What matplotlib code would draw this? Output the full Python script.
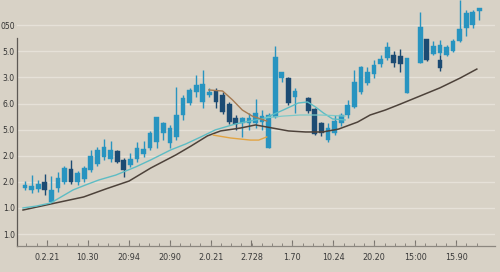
import matplotlib
matplotlib.use("Agg")
import matplotlib.pyplot as plt
import numpy as np

# ---------------- data ----------------
idx = [0, 1, 2, 3, 4, 5, 6, 7, 8, 9, 10, 11, 12, 13, 14, 15, 16, 17, 18, 19, 20,
       21, 22, 23, 24, 25, 26, 27, 28, 29, 30, 31, 32, 33, 34, 35, 36, 37, 38, 39,
       40, 41, 43, 44, 45, 46, 47, 48, 49, 50, 51, 52, 53, 54, 55, 56, 57, 58,
       60, 61, 62, 63, 63, 64, 65, 66, 67, 68, 69]

opens = [27.6, 26.9, 27.3, 29.9, 22.3, 27.6, 29.9, 34.9, 29.9, 31.1, 34.5, 36.8,
         39.5, 38.8, 41.8, 38.4, 36.5, 38.8, 40.7, 43.0, 45.3, 48.7, 44.9, 47.2,
         55.6, 60.2, 64.4, 60.6, 63.3, 64.8, 63.3, 59.8, 54.5, 52.5, 52.5, 52.5,
         52.9, 43.0, 54.8, 69.8, 69.8, 62.5,
         62.1, 57.9, 52.5, 46.0, 48.7, 52.5, 55.6, 58.7, 64.4, 67.9, 71.3, 75.1,
         77.4, 78.6, 78.2, 64.0,
         75.5, 84.7, 79.0, 79.4, 76.7, 78.6, 80.1, 84.0, 88.9, 90.1, 95.5]
highs = [30.3, 32.6, 30.7, 33.0, 32.2, 33.8, 36.1, 38.4, 34.2, 36.1, 42.2, 43.3,
         46.4, 45.6, 42.2, 39.1, 41.1, 45.3, 45.6, 49.5, 54.8, 52.9, 51.8, 66.3,
         63.3, 66.0, 70.9, 72.8, 66.0, 66.0, 64.4, 60.6, 55.6, 54.8, 56.4, 61.7,
         57.5, 56.4, 82.0, 72.1, 70.2, 66.0,
         62.5, 58.3, 52.9, 52.5, 55.6, 56.4, 61.4, 72.8, 74.4, 74.0, 76.7, 78.6,
         83.6, 80.1, 80.9, 77.4,
         95.1, 84.7, 84.0, 84.3, 78.6, 82.4, 84.7, 99.7, 95.8, 95.8, 96.6]
lows = [26.9, 25.7, 26.1, 25.0, 21.9, 26.1, 29.2, 29.2, 28.8, 29.9, 33.8, 36.1,
        38.4, 37.6, 37.2, 31.9, 35.7, 37.6, 39.5, 42.2, 43.0, 46.0, 43.0, 46.0,
        53.7, 59.4, 62.5, 58.3, 62.5, 58.3, 56.0, 52.2, 49.9, 47.2, 49.9, 50.6,
        49.9, 43.0, 54.5, 68.3, 59.4, 56.4,
        56.4, 47.9, 47.6, 45.3, 47.9, 51.4, 54.5, 58.3, 63.7, 67.1, 69.8, 74.0,
        76.7, 74.0, 72.1, 64.0,
        75.5, 76.3, 78.6, 78.6, 72.5, 78.2, 79.7, 83.6, 85.9, 88.9, 92.0]
closes = [28.8, 28.4, 29.2, 26.9, 26.9, 31.5, 35.3, 29.9, 33.4, 35.3, 39.9, 42.2,
          43.3, 42.2, 37.6, 34.5, 38.8, 43.0, 42.6, 48.7, 54.8, 52.5, 50.6, 55.6,
          62.1, 65.2, 67.1, 67.5, 64.4, 60.6, 56.8, 52.9, 52.2, 54.5, 54.5, 56.4,
          55.2, 55.6, 77.8, 72.1, 60.2, 64.8,
          57.1, 48.3, 48.7, 50.6, 53.3, 55.6, 59.4, 68.3, 74.0, 72.1, 74.8, 77.1,
          81.7, 75.5, 75.1, 77.4,
          89.3, 76.7, 82.0, 82.4, 73.6, 81.7, 84.0, 88.6, 94.7, 95.1, 96.6]

ma_long_x = [-0.3, 3.9, 8.9, 12.3, 15.8, 19.1, 22.9, 25.2, 27.7, 29.7, 32.7, 35.0,
             37.6, 40.0, 42.6, 45.2, 47.6, 50.5, 52.4, 54.7, 57.0, 60.0, 63.0, 66.1, 68.6]
ma_long_y = [19.2, 21.5, 24.2, 27.3, 30.3, 35.3, 40.3, 43.7, 47.6, 49.5, 50.6, 51.8,
             50.6, 49.5, 49.1, 49.1, 50.2, 52.9, 55.6, 57.5, 59.8, 62.9, 66.0, 69.8, 73.2]

ma_short_x = [-0.3, 1.7, 3.9, 5.2, 7.3, 9.2, 11.2, 13.8, 16.8, 19.1, 22.1, 24.4,
              26.7, 28.9, 32.0, 35.0, 36.5, 39.2, 41.5, 42.9, 44.1, 45.3, 46.7, 48.6]
ma_short_y = [20.0, 20.7, 21.9, 23.8, 26.9, 28.8, 30.7, 32.6, 35.7, 38.4, 42.2, 44.5,
              47.2, 49.9, 52.2, 53.7, 54.5, 57.5, 60.2, 60.6, 58.7, 56.4, 54.1, 53.7]

ma_flat_x = [36.5, 39.2, 41.8, 44.8, 48.6]
ma_flat_y = [54.5, 55.2, 55.6, 55.6, 55.2]

brown_x = [27.9, 30.0, 31.5, 33.0, 34.5, 35.8, 36.7]
brown_y = [65.2, 64.8, 61.4, 57.5, 55.2, 54.1, 53.3]

amber_x = [28.6, 31.2, 34.2, 35.5, 36.7]
amber_y = [47.9, 46.8, 46.0, 46.0, 47.2]

y_ticks = [10, 20, 30, 40, 50, 60, 70, 80, 90]
y_labels = ["1.0", "1.0", "2.0", "2.0", "5.0", "6.0", "3.0", "5.0", "050"]
x_labels = ["0.2.21", "10.30", "20:94", "20:90", "2.0.21", "2.728",
            "1.70", "10.24", "20.20", "15:00", "15.90"]

# ---------------- style ----------------
BG = "#d8d2c6"
GRID = "#e6e1d8"
LIGHT = "#2894c0"
DARK = "#1c4b73"

fig = plt.figure(figsize=(5.0, 2.72), dpi=100)
fig.patch.set_facecolor(BG)
ax = fig.add_axes([0.034, 0.0956, 0.956, 0.9044])
ax.set_facecolor(BG)
ax.set_xlim(-1.21, 71.36)
ax.set_ylim(5.42, 99.66)

# grid
ax.set_yticks(y_ticks)
ax.set_yticklabels(y_labels)
ax.yaxis.grid(True, color=GRID, lw=1.0)
ax.set_axisbelow(True)

# candles
o = np.array(opens); c = np.array(closes)
h = np.array(highs); l = np.array(lows)
x = np.array(idx, dtype=float)
cols = [LIGHT if cc >= oo else DARK for oo, cc in zip(o, c)]
ax.vlines(x, l, h, colors=cols, lw=1.0, zorder=2)
ax.bar(x, np.abs(c - o), bottom=np.minimum(o, c), width=0.72,
       color=cols, edgecolor=cols, lw=0.3, zorder=2)

# lines
ax.plot(ma_long_x, ma_long_y, color="#4d423a", lw=1.1, zorder=3)
ax.plot(ma_short_x, ma_short_y, color="#5dbcc4", lw=1.0, zorder=3)
ax.plot(ma_flat_x, ma_flat_y, color="#7cc9c8", lw=0.9, zorder=3)
ax.plot(brown_x, brown_y, color="#a57a52", lw=1.0, zorder=3)
ax.plot(amber_x, amber_y, color="#e2a443", lw=1.0, zorder=3)

# spines
for s in ("top", "right"):
    ax.spines[s].set_visible(False)
ax.spines["left"].set_color("#5e5a55")
ax.spines["left"].set_linewidth(0.9)
ax.spines["left"].set_bounds(5.42, 85.1)
ax.spines["bottom"].set_color("#8c877f")
ax.spines["bottom"].set_linewidth(0.9)

# ticks
major = 3.33 + 6.212 * np.arange(len(x_labels))
minor = np.arange(0.23, 70.0, 6.212 / 4)
ax.set_xticks(major)
ax.set_xticklabels(x_labels)
ax.set_xticks(minor, minor=True)
ax.tick_params(axis="x", which="major", direction="in", length=4, width=0.8,
               color="#7a756e", labelsize=5.8, labelcolor="#3a3a3a", pad=5)
ax.tick_params(axis="x", which="minor", direction="in", length=2, width=0.7,
               color="#8a857e")
ax.tick_params(axis="y", length=0, labelsize=5.5, labelcolor="#333333", pad=1.5)
for t in ax.get_yticklabels() + ax.get_xticklabels():
    t.set_fontfamily("DejaVu Sans")

fig.savefig("out.png", dpi=100, facecolor=BG)
